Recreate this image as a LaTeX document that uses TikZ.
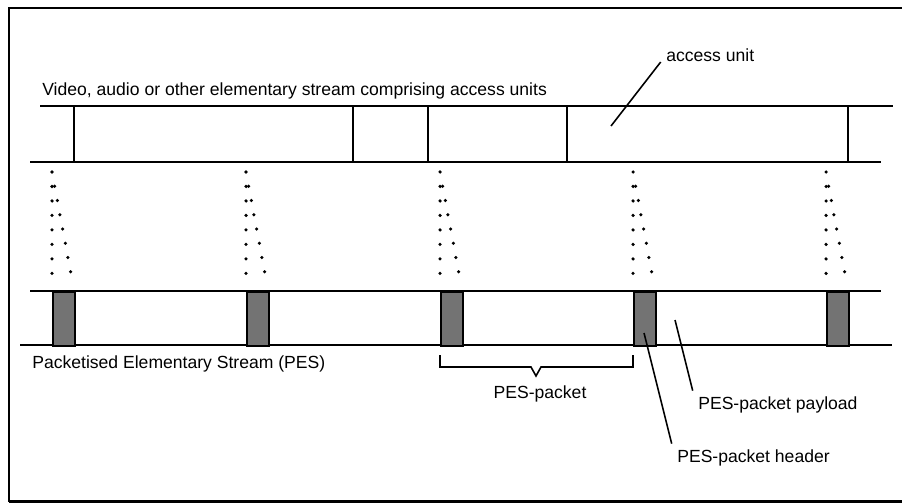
\documentclass[tikz,border=0pt]{standalone}
\usepackage{fontspec}
\setmainfont{Liberation Sans}

\begin{document}
\begin{tikzpicture}[x=0.02cm,y=-0.02cm,
  line/.style={line width=1.1pt},
  hdr/.style={rectangle,draw,line width=0.9pt,fill=black!55,minimum width=4.4mm,minimum height=10.8mm,inner sep=0pt,anchor=north west},
  guide/.style={line width=2pt,line cap=round,dash pattern=on 0pt off 2.9mm},
  lead/.style={line width=0.9pt},
  note/.style={font=\fontsize{10}{12}\selectfont,inner sep=3pt}]

\useasboundingbox (0,0) rectangle (902,503);
\draw[line width=1pt] (902,8) -- (9,8) -- (9,501.5);
\draw[line width=1.6pt] (9,501.5) -- (902,501.5);

% elementary stream made of access units
\node[note,anchor=base west] (es) at (36.7,96) {Video, audio or other elementary stream comprising access units};
\draw[line] (40,106) -- (893,106);
\draw[line] (30,162) -- (881,162);
\draw[line] (74,106) -- (74,162) (353,106) -- (353,162) (428,106) -- (428,162)
  (567,106) -- (567,162) (848,106) -- (848,162);

\node[note,anchor=base west] (au) at (660.7,62) {access unit};
\coordinate (au0) at (611,126);
\draw[lead] (au0) -- (au.base west);

% dotted guides down to the packet headers
\draw[guide] (52,172) -- (52,274) (52,172) -- (71,274);
\draw[guide] (246,172) -- (246,274) (246,172) -- (265,274);
\draw[guide] (440,172) -- (440,274) (440,172) -- (459,274);
\draw[guide] (633,172) -- (633,274) (633,172) -- (652,274);
\draw[guide] (826,172) -- (826,274) (826,172) -- (845,274);

% packetised elementary stream
\draw[line] (30,291) -- (881,291);
\draw[line] (20,345) -- (892,345);
\node[hdr] (h1) at (52,291) {};
\node[hdr] (h2) at (246,291) {};
\node[hdr] (h3) at (440,291) {};
\node[hdr] (h4) at (633,291) {};
\node[hdr] (h5) at (826,291) {};
\node[note,anchor=base west] (pes) at (26.7,368) {Packetised Elementary Stream (PES)};

% one packet
\draw[lead] (440,355) -- (440,367) -- (531,367) -- (536,376) -- (541,367) -- (633,367) -- (633,355);
\node[note,anchor=base] (pp) at (540,398) {PES-packet};

% payload and header
\node[note,anchor=base west] (pl) at (692.7,409) {PES-packet payload};
\node[note,anchor=base west] (ph) at (671.7,462) {PES-packet header};
\coordinate (pl0) at (675,320);
\coordinate (ph0) at (644,333);
\draw[lead] (pl0) -- (pl.north west);
\draw[lead] (ph0) -- (ph.north west);
\end{tikzpicture}
\end{document}
